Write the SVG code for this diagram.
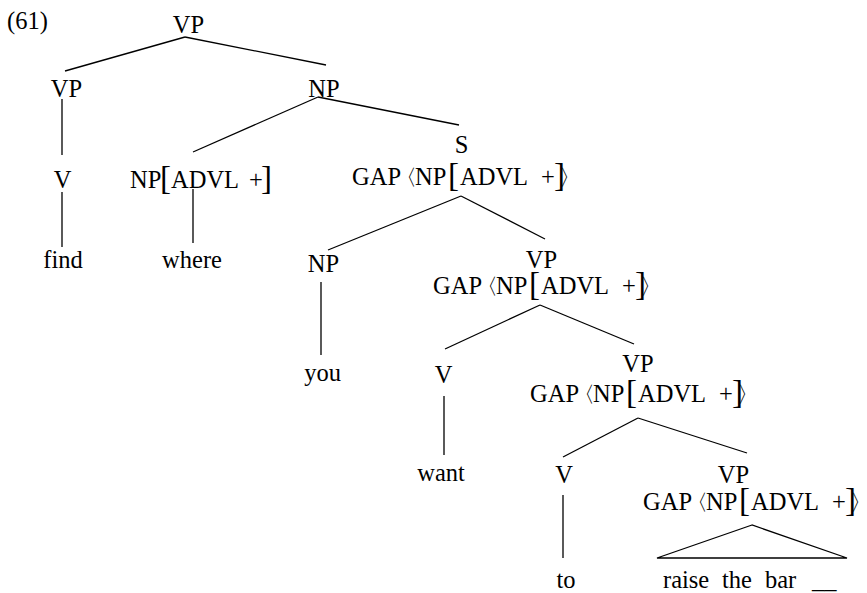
<svg xmlns="http://www.w3.org/2000/svg" width="867" height="593" viewBox="0 0 867 593">
  <style>
    text { font-family: 'Liberation Serif', 'Times New Roman', serif; font-size: 24.5px; fill: #000; }
    .c { text-anchor: middle; }
    .br { font-size: 33px; }
    .ang { font-size: 22px; }
    .edge { stroke: #000; stroke-width: 1.3; fill: none; }
  </style>
  <rect width="867" height="593" fill="#fff"/>

  <!-- example number -->
  <text x="7" y="28.5">(61)</text>

  <!-- tree edges -->
  <g id="connectors" class="edge">
    <line x1="185" y1="37" x2="65" y2="71"/>
    <line x1="185" y1="37" x2="326" y2="65"/>
    <line x1="62" y1="99" x2="62" y2="155"/>
    <line x1="318" y1="97" x2="193" y2="152"/>
    <line x1="318" y1="97" x2="459" y2="125"/>
    <line x1="62" y1="192" x2="62" y2="247"/>
    <line x1="193" y1="189" x2="193" y2="243"/>
    <line x1="461" y1="196" x2="328" y2="250"/>
    <line x1="461" y1="196" x2="545" y2="239"/>
    <line x1="321" y1="282" x2="321" y2="355"/>
    <line x1="540" y1="305" x2="445" y2="349"/>
    <line x1="540" y1="305" x2="634" y2="344"/>
    <line x1="444" y1="396" x2="444" y2="455"/>
    <line x1="638" y1="418" x2="563" y2="457"/>
    <line x1="638" y1="418" x2="747" y2="453"/>
    <line x1="563" y1="495" x2="563" y2="558"/>
    <!-- roof over the unanalysed VP -->
    <polygon points="752,525 657,558 847,558"/>
  </g>

  <!-- nodes -->
  <g id="vp-root"><text class="c" x="188.5" y="33">VP</text></g>
  <g id="vp-find"><text class="c" x="66.5" y="97">VP</text></g>
  <g id="np-top"><text class="c" x="324" y="97">NP</text></g>
  <g id="v-find"><text class="c" x="62.5" y="188">V</text></g>
  <g id="np-where">
    <text y="188"><tspan x="130">NP</tspan><tspan class="br" x="160" y="189">[</tspan><tspan x="171" y="188">ADVL</tspan><tspan x="249">+</tspan><tspan class="br" x="261" y="189">]</tspan></text>
  </g>
  <g id="s-node">
    <text class="c" x="461.5" y="153">S</text>
    <text transform="translate(352,185)"><tspan x="0" y="0">GAP</tspan><tspan class="ang" x="43">〈</tspan><tspan x="63">NP</tspan><tspan class="br" x="96" y="1">[</tspan><tspan x="108" y="0">ADVL</tspan><tspan x="189">+</tspan><tspan class="br" x="202" y="1">]</tspan><tspan class="ang" x="207" y="0">〉</tspan></text>
  </g>
  <g id="w-find"><text class="c" x="63" y="268">find</text></g>
  <g id="w-where"><text class="c" x="192" y="268">where</text></g>
  <g id="np-you"><text class="c" x="323.5" y="272">NP</text></g>
  <g id="vp-want">
    <text class="c" x="541.5" y="268">VP</text>
    <text transform="translate(433,294)"><tspan x="0" y="0">GAP</tspan><tspan class="ang" x="43">〈</tspan><tspan x="63">NP</tspan><tspan class="br" x="96" y="1">[</tspan><tspan x="108" y="0">ADVL</tspan><tspan x="189">+</tspan><tspan class="br" x="202" y="1">]</tspan><tspan class="ang" x="207" y="0">〉</tspan></text>
  </g>
  <g id="w-you"><text class="c" x="322.5" y="381">you</text></g>
  <g id="v-want"><text class="c" x="443.5" y="383">V</text></g>
  <g id="vp-to">
    <text class="c" x="638" y="372">VP</text>
    <text transform="translate(530,402)"><tspan x="0" y="0">GAP</tspan><tspan class="ang" x="43">〈</tspan><tspan x="63">NP</tspan><tspan class="br" x="96" y="1">[</tspan><tspan x="108" y="0">ADVL</tspan><tspan x="189">+</tspan><tspan class="br" x="202" y="1">]</tspan><tspan class="ang" x="207" y="0">〉</tspan></text>
  </g>
  <g id="w-want"><text class="c" x="441" y="481">want</text></g>
  <g id="v-to"><text class="c" x="564" y="483">V</text></g>
  <g id="vp-raise">
    <text class="c" x="733.5" y="483">VP</text>
    <text transform="translate(643,510)"><tspan x="0" y="0">GAP</tspan><tspan class="ang" x="43">〈</tspan><tspan x="63">NP</tspan><tspan class="br" x="96" y="1">[</tspan><tspan x="108" y="0">ADVL</tspan><tspan x="189">+</tspan><tspan class="br" x="202" y="1">]</tspan><tspan class="ang" x="207" y="0">〉</tspan></text>
  </g>
  <g id="w-to"><text class="c" x="566" y="588">to</text></g>
  <g id="w-raise">
    <text y="588"><tspan x="663">raise</tspan><tspan x="722">the</tspan><tspan x="765">bar</tspan><tspan x="812">__</tspan></text>
  </g>
</svg>
